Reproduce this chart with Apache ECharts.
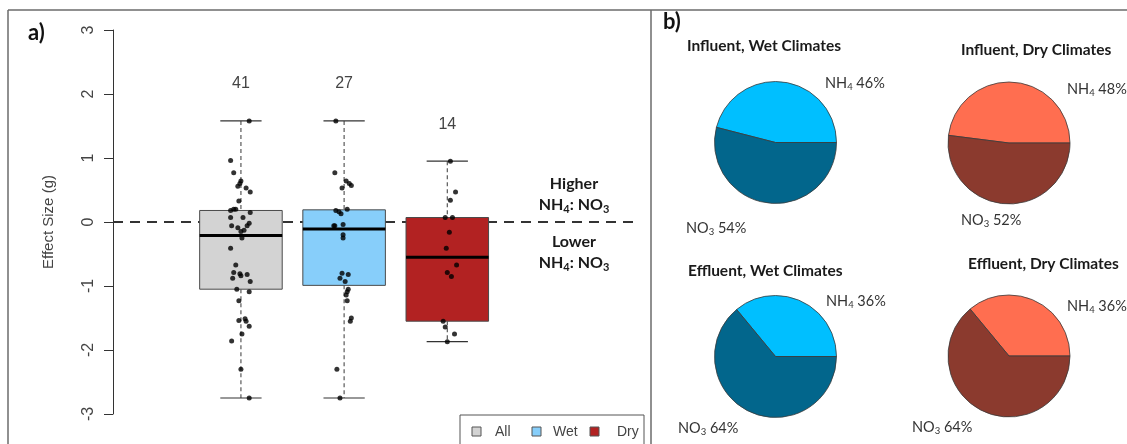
<!DOCTYPE html>
<html>
<head>
<meta charset="utf-8">
<script src="https://cdn.jsdelivr.net/npm/echarts@6/dist/echarts.min.js"></script>
<style>
  html, body { margin: 0; padding: 0; background: #ffffff; }
  #chart { width: 1127px; height: 444px; }
</style>
</head>
<body>
<div id="chart"></div>
<script>
// ---- Panel a): effect size of NH4:NO3 by climate group ----
const groups = ['All', 'Wet', 'Dry'];
const groupCounts = [41, 27, 14];
const whiskerLow = [-2.75, -2.75, -1.87];
const quartile1 = [-1.05, -0.99, -1.55];
const medians = [-0.21, -0.11, -0.55];
const quartile3 = [0.18, 0.19, 0.07];
const whiskerHigh = [1.58, 1.58, 0.95];
const yTicks = [-3, -2, -1, 0, 1, 2, 3];

// individual effect sizes: [horizontal jitter, g]
const pointsAll = [
  [0.08, 1.58], [-0.10, 0.96], [-0.07, 0.77], [0.00, 0.64], [-0.03, 0.56], [-0.01, 0.60],
  [0.05, 0.53], [0.09, 0.47], [-0.02, 0.33], [-0.10, 0.18], [-0.07, 0.20], [-0.05, 0.20],
  [0.09, 0.15], [-0.10, 0.07], [0.02, 0.07], [0.08, -0.02], [0.06, -0.06], [-0.09, -0.06],
  [-0.03, -0.09], [0.00, -0.15], [0.03, -0.13], [0.01, -0.25], [-0.10, -0.41], [-0.05, -0.67],
  [-0.07, -0.79], [-0.08, -0.88], [-0.01, -0.81], [0.00, -0.84], [0.06, -0.82], [0.09, -0.93],
  [-0.04, -1.05], [0.08, -1.09], [-0.02, -1.23], [0.04, -1.51], [-0.02, -1.54], [0.05, -1.55],
  [0.08, -1.63], [0.01, -1.75], [-0.09, -1.86], [0.00, -2.30], [0.08, -2.75]
];
const pointsWet = [
  [-0.08, 1.58], [-0.09, 0.77], [0.02, 0.64], [-0.02, 0.53], [0.07, 0.57], [0.05, 0.60],
  [-0.08, 0.18], [-0.05, 0.16], [0.03, 0.20], [-0.03, 0.13], [-0.10, -0.06], [-0.09, -0.06],
  [-0.01, -0.04], [-0.01, -0.20], [-0.01, -0.25], [-0.02, -0.80], [0.04, -0.82], [-0.04, -0.88],
  [0.01, -0.93], [0.04, -1.05], [0.03, -1.09], [0.02, -1.14], [0.03, -1.23], [0.07, -1.50],
  [0.06, -1.55], [-0.07, -2.30], [-0.04, -2.75]
];
const pointsDry = [
  [0.03, 0.95], [0.08, 0.47], [0.03, 0.34], [-0.02, 0.07], [0.05, 0.07], [0.02, -0.16],
  [-0.01, -0.41], [0.09, -0.67], [0.00, -0.79], [0.04, -0.85], [-0.04, -1.55], [-0.02, -1.64],
  [0.07, -1.75], [0.00, -1.87]
];

// ---- Panel b): share of NH4 vs NO3 (%) ----
const influentWet = [46, 54];
const influentDry = [48, 52];
const effluentWet = [36, 64];
const effluentDry = [36, 64];

const boxColors = ['#D3D3D3', '#87CEFA', '#B22222'];
const wetColors = ['#00BFFF', '#02668C'];
const dryColors = ['#FF6E50', '#8B3A2E'];

const LABEL_FONT = 'Lato';
const R_FONT = '"Liberation Sans", Arial, sans-serif';

const boxData = groups.map((g, i) => [i + 1, whiskerLow[i], quartile1[i], medians[i], quartile3[i], whiskerHigh[i], groupCounts[i]]);

const scatterData = [];
[pointsAll, pointsWet, pointsDry].forEach((pts, i) => {
  pts.forEach(p => scatterData.push([i + 1 + p[0], p[1]]));
});

function renderBox(params, api) {
  const i = params.dataIndex;
  const x = api.value(0);
  const lo = api.coord([x, api.value(1)]);
  const b1 = api.coord([x, api.value(2)]);
  const md = api.coord([x, api.value(3)]);
  const b3 = api.coord([x, api.value(4)]);
  const hi = api.coord([x, api.value(5)]);
  const half = api.size([0.8, 0])[0] / 2;
  const capHalf = half / 2;
  const cx = lo[0];
  const dash = { stroke: '#4a4a4a', lineWidth: 1.1, lineDash: [4, 3] };
  const cap = { stroke: '#333', lineWidth: 1.2 };
  return {
    type: 'group',
    children: [
      { type: 'line', shape: { x1: cx, y1: hi[1], x2: cx, y2: b3[1] }, style: dash },
      { type: 'line', shape: { x1: cx, y1: b1[1], x2: cx, y2: lo[1] }, style: dash },
      { type: 'line', shape: { x1: cx - capHalf, y1: hi[1], x2: cx + capHalf, y2: hi[1] }, style: cap },
      { type: 'line', shape: { x1: cx - capHalf, y1: lo[1], x2: cx + capHalf, y2: lo[1] }, style: cap },
      { type: 'rect', shape: { x: cx - half, y: b3[1], width: 2 * half, height: b1[1] - b3[1] },
        style: { fill: boxColors[i], stroke: '#4a4a4a', lineWidth: 1 } },
      { type: 'line', shape: { x1: cx - half, y1: md[1], x2: cx + half, y2: md[1] },
        style: { stroke: '#000', lineWidth: 3 } },
      { type: 'text', x: cx, y: hi[1] - 37,
        style: { text: String(api.value(6)), align: 'center', verticalAlign: 'middle',
                 fill: '#444', fontSize: 16, fontFamily: R_FONT } }
    ]
  };
}

function pieSeries(center, values, colors) {
  return {
    type: 'pie',
    center: center,
    radius: 61,
    startAngle: 0,
    clockwise: false,
    silent: true,
    animation: false,
    label: { show: false },
    labelLine: { show: false },
    emphasis: { disabled: true },
    itemStyle: { borderColor: '#3a3a3a', borderWidth: 0.8 },
    data: values.map((v, k) => ({ value: v, name: k === 0 ? 'NH4' : 'NO3', itemStyle: { color: colors[k] } }))
  };
}

const richLabel = {
  n: { fontSize: 14.5, fontFamily: LABEL_FONT, fill: '#333', color: '#333', lineHeight: 18 },
  s: { fontSize: 9.5, fontFamily: LABEL_FONT, fill: '#333', color: '#333', lineHeight: 18, verticalAlign: 'bottom' }
};
function pctLabel(x, y, ion, value) {
  const sub = ion === 'NH' ? '4' : '3';
  return {
    type: 'text', x: x, y: y, silent: true,
    style: { text: '{n|' + ion + '}{s|' + sub + '}{n| ' + value + '%}', rich: richLabel, align: 'left', verticalAlign: 'middle' }
  };
}
function title(x, y, text) {
  return {
    type: 'text', x: x, y: y, silent: true,
    style: { text: text, fontSize: 15.5, fontWeight: 'bold', fontFamily: LABEL_FONT, fill: '#1a1a1a', align: 'left', verticalAlign: 'middle' }
  };
}

const ratioRich = {
  b: { fontSize: 16, fontWeight: 'bold', fontFamily: LABEL_FONT, fill: '#1a1a1a', color: '#1a1a1a', lineHeight: 21 },
  bs: { fontSize: 11, fontWeight: 'bold', fontFamily: LABEL_FONT, fill: '#1a1a1a', color: '#1a1a1a', lineHeight: 21, verticalAlign: 'bottom' }
};

const frameStyle = { stroke: '#6b6b6b', lineWidth: 1.5 };

const legendItems = [
  { sq: 472, tx: 495, color: boxColors[0], name: groups[0] },
  { sq: 532, tx: 553, color: boxColors[1], name: groups[1] },
  { sq: 590, tx: 617, color: boxColors[2], name: groups[2] }
];

const graphics = [
  // frame
  { type: 'line', shape: { x1: 8, y1: 10, x2: 1127, y2: 10 }, style: frameStyle, silent: true },
  { type: 'line', shape: { x1: 8, y1: 10, x2: 8, y2: 444 }, style: frameStyle, silent: true },
  { type: 'line', shape: { x1: 651, y1: 10, x2: 651, y2: 444 }, style: frameStyle, silent: true },
  // panel tags
  { type: 'text', x: 28, y: 33, style: { text: 'a)', fontSize: 22, fontWeight: 'bold', fontFamily: LABEL_FONT, fill: '#111', verticalAlign: 'middle' } },
  { type: 'text', x: 663, y: 22, style: { text: 'b)', fontSize: 22, fontWeight: 'bold', fontFamily: LABEL_FONT, fill: '#111', verticalAlign: 'middle' } },
  // ratio annotations
  { type: 'text', x: 574, y: 194, style: { text: '{b|Higher}\n{b|NH}{bs|4}{b|: NO}{bs|3}', rich: ratioRich, align: 'center', verticalAlign: 'middle' } },
  { type: 'text', x: 574, y: 252, style: { text: '{b|Lower}\n{b|NH}{bs|4}{b|: NO}{bs|3}', rich: ratioRich, align: 'center', verticalAlign: 'middle' } },
  // legend
  { type: 'rect', shape: { x: 460, y: 415, width: 184, height: 40 }, style: { fill: '#fff', stroke: '#555', lineWidth: 1 } },
  // pie titles
  title(687, 46, 'Influent, Wet Climates'),
  title(961, 50, 'Influent, Dry Climates'),
  title(688, 271, 'Effluent, Wet Climates'),
  title(968, 264, 'Effluent, Dry Climates'),
  // pie percentages
  pctLabel(825, 83, 'NH', influentWet[0]),
  pctLabel(686, 228, 'NO', influentWet[1]),
  pctLabel(1067, 89, 'NH', influentDry[0]),
  pctLabel(961, 220, 'NO', influentDry[1]),
  pctLabel(826, 301, 'NH', effluentWet[0]),
  pctLabel(678, 428, 'NO', effluentWet[1]),
  pctLabel(1067, 306, 'NH', effluentDry[0]),
  pctLabel(912, 427, 'NO', effluentDry[1])
];
legendItems.forEach(it => {
  graphics.push({ type: 'rect', shape: { x: it.sq, y: 427, width: 9, height: 9 }, style: { fill: it.color, stroke: '#555', lineWidth: 1 } });
  graphics.push({ type: 'text', x: it.tx, y: 432, style: { text: it.name, fontSize: 14, fontFamily: R_FONT, fill: '#444', verticalAlign: 'middle' } });
});

const chart = echarts.init(document.getElementById('chart'), null, { renderer: 'canvas' });
chart.setOption({
  animation: false,
  backgroundColor: '#ffffff',
  grid: { left: 113, right: 494, top: 30, bottom: 30 },
  xAxis: { type: 'value', min: -0.24, max: 4.8, show: false },
  yAxis: {
    type: 'value', min: yTicks[0], max: yTicks[yTicks.length - 1], interval: 1,
    axisLine: { show: true, onZero: false, lineStyle: { color: '#333', width: 1 } },
    axisTick: { show: true, length: 9, lineStyle: { color: '#333', width: 1 } },
    axisLabel: { rotate: 90, margin: 16, color: '#444', fontSize: 16, fontFamily: R_FONT },
    splitLine: { show: false },
    name: 'Effect Size (g)', nameLocation: 'middle', nameGap: 57,
    nameTextStyle: { color: '#444', fontSize: 15, fontFamily: R_FONT }
  },
  series: [
    {
      type: 'line', z: 1, silent: true, symbol: 'none',
      data: [[-0.24, 0], [4.8, 0]],
      lineStyle: { color: '#333', width: 2, type: [10, 7] }
    },
    {
      type: 'custom', z: 2, silent: true,
      renderItem: renderBox,
      encode: { x: 0, y: [1, 2, 3, 4, 5] },
      data: boxData
    },
    {
      type: 'scatter', z: 3, silent: true,
      symbol: 'circle', symbolSize: 5,
      itemStyle: { color: '#000' },
      data: scatterData
    },
    pieSeries([775.5, 142.5], influentWet, wetColors),
    pieSeries([1009, 143], influentDry, dryColors),
    pieSeries([775.5, 356.5], effluentWet, wetColors),
    pieSeries([1009, 356], effluentDry, dryColors)
  ],
  graphic: graphics
});
</script>
</body>
</html>
